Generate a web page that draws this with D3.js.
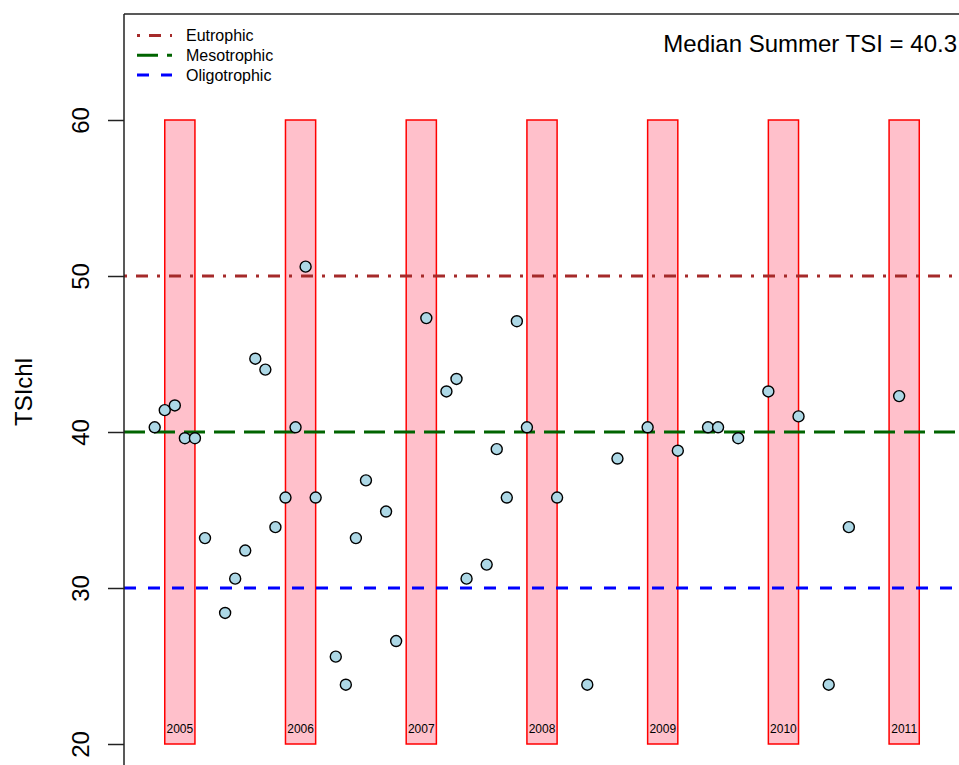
<!doctype html>
<html>
<head>
<meta charset="utf-8">
<script src="https://cdn.jsdelivr.net/npm/d3@7"></script>
<style>
  body { margin: 0; background: #fff; }
  svg text { font-family: "Liberation Sans", Arial, Helvetica, sans-serif; fill: #000; }
</style>
</head>
<body>
<svg id="chart" width="959" height="765"></svg>
<script>
// sample months and chlorophyll TSI values
var months = ["2005-05","2005-06","2005-07","2005-08","2005-09","2005-10","2005-12",
  "2006-01","2006-02","2006-03","2006-04","2006-05","2006-06","2006-07","2006-08","2006-09",
  "2006-11","2006-12","2007-01","2007-02","2007-04","2007-05","2007-08","2007-10","2007-11",
  "2007-12","2008-02","2008-03","2008-04","2008-05","2008-06","2008-09","2008-12","2009-03",
  "2009-06","2009-09","2009-12","2010-01","2010-03","2010-06","2010-09","2010-12","2011-02",
  "2011-07"];
var tsi = [40.3, 41.4, 41.7, 39.6, 39.6, 33.2, 28.4,
  30.6, 32.4, 44.7, 44.0, 33.9, 35.8, 40.3, 50.6, 35.8,
  25.6, 23.8, 33.2, 36.9, 34.9, 26.6, 47.3, 42.6, 43.4,
  30.6, 31.5, 38.9, 35.8, 47.1, 40.3, 35.8, 23.8, 38.3,
  40.3, 38.8, 40.3, 40.3, 39.6, 42.6, 41.0, 23.8, 33.9,
  42.3];

// summer windows (June to September) per year
var years = [2005, 2006, 2007, 2008, 2009, 2010, 2011];
var summerStart = 6, summerEnd = 9;

// trophic thresholds
var levels = ["Eutrophic", "Mesotrophic", "Oligotrophic"];
var levelValues = [50, 40, 30];
var levelColors = ["#A52A2A", "#006400", "#0000FF"];
var levelDash = ["3,9,12,9", "21,9", "12,12"];

var yTicks = [20, 30, 40, 50, 60];
var medianLabel = "Median Summer TSI = 40.3";

// helpers
function monthIndex(str) {
  var p = str.split("-");
  return (+p[0] - 2005) * 12 + (+p[1] - 5);
}
function ymIndex(year, m) { return (year - 2005) * 12 + (m - 5); }

var svg = d3.select("#chart");
var plotLeft = 124, plotTop = 14, W = 959, H = 765;

var x = d3.scaleLinear().domain([0, 80]).range([154.7, 154.7 + 80 * 10.06]);
var y = d3.scaleLinear().domain([20, 60]).range([744, 120]);

// summer bars
var bars = svg.append("g");
bars.selectAll("rect").data(years).enter().append("rect")
  .attr("x", function(d){ return x(ymIndex(d, summerStart)); })
  .attr("width", function(d){ return x(ymIndex(d, summerEnd)) - x(ymIndex(d, summerStart)); })
  .attr("y", y(60))
  .attr("height", y(20) - y(60))
  .style("fill", "#FFC0CB")
  .style("stroke", "#FF0000")
  .style("stroke-width", 1.5);

bars.selectAll("text").data(years).enter().append("text")
  .attr("x", function(d){ return (x(ymIndex(d, summerStart)) + x(ymIndex(d, summerEnd))) / 2; })
  .attr("y", y(20) - 11)
  .attr("text-anchor", "middle")
  .style("font-size", "12px")
  .text(function(d){ return d; });

// threshold lines
svg.append("g").selectAll("line").data(levelValues).enter().append("line")
  .attr("x1", plotLeft).attr("x2", W + 5)
  .attr("y1", function(d){ return y(d); })
  .attr("y2", function(d){ return y(d); })
  .style("stroke", function(d, i){ return levelColors[i]; })
  .style("stroke-width", 3)
  .style("stroke-dasharray", function(d, i){ return levelDash[i]; });

// points
svg.append("g").selectAll("circle").data(tsi).enter().append("circle")
  .attr("cx", function(d, i){ return x(monthIndex(months[i])); })
  .attr("cy", function(d){ return y(d); })
  .attr("r", 5.5)
  .style("fill", "#ADD8E6")
  .style("stroke", "#000")
  .style("stroke-width", 1.4);

// frame (plot region is cut at the right and bottom)
svg.append("line").attr("x1", plotLeft).attr("x2", W).attr("y1", plotTop).attr("y2", plotTop)
  .style("stroke", "#222").style("stroke-width", 1.5);
svg.append("line").attr("x1", plotLeft).attr("x2", plotLeft).attr("y1", plotTop).attr("y2", H)
  .style("stroke", "#222").style("stroke-width", 1.5);

// y axis
var yAxis = d3.axisLeft(y).tickValues(yTicks).tickSize(16).tickPadding(0).tickFormat(d3.format("d"));
var ga = svg.append("g").attr("transform", "translate(" + plotLeft + ",0)").call(yAxis);
ga.select(".domain").remove();
ga.selectAll(".tick line").style("stroke", "#222").style("stroke-width", 1.5);
ga.selectAll(".tick text")
  .attr("x", null).attr("dy", null)
  .attr("transform", "translate(-35,0) rotate(-90)")
  .attr("text-anchor", "middle")
  .style("font-size", "24px")
  .style("font-family", "'Liberation Sans', Arial, Helvetica, sans-serif")
  .style("fill", "#000");

svg.append("text")
  .attr("transform", "translate(32,392) rotate(-90)")
  .attr("text-anchor", "middle")
  .style("font-size", "24px")
  .text("TSIchl");

// median label
svg.append("text")
  .attr("x", 957).attr("y", 52)
  .attr("text-anchor", "end")
  .style("font-size", "24px")
  .text(medianLabel);

// legend
var lg = svg.append("g");
var rows = lg.selectAll("g").data(levels).enter().append("g")
  .attr("transform", function(d, i){ return "translate(137," + (35.5 + i * 19.8) + ")"; });
rows.append("line")
  .attr("x1", 0).attr("x2", 35).attr("y1", 0).attr("y2", 0)
  .style("stroke", function(d, i){ return levelColors[i]; })
  .style("stroke-width", 3)
  .style("stroke-dasharray", function(d, i){ return levelDash[i]; });
rows.append("text")
  .attr("x", 49).attr("y", 5.5)
  .style("font-size", "16px")
  .text(function(d){ return d; });
</script>
</body>
</html>
